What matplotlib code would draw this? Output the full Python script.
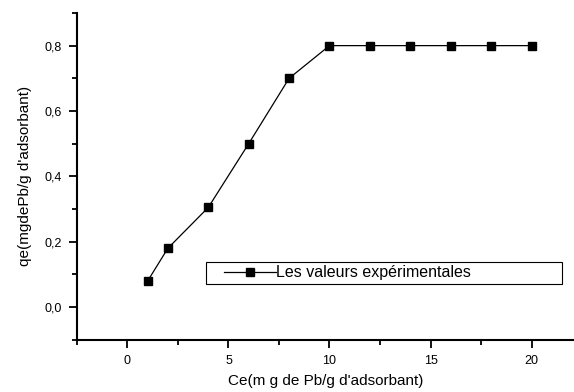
import numpy as np
import matplotlib.pyplot as plt
from matplotlib.patches import Rectangle
from matplotlib.ticker import FuncFormatter, MultipleLocator

plt.rcParams['font.family'] = ['Liberation Sans', 'DejaVu Sans']

ce = [1, 2, 4, 6, 8, 10, 12, 14, 16, 18, 20]
qe = [0.08, 0.18, 0.305, 0.50, 0.70, 0.80, 0.80, 0.80, 0.80, 0.80, 0.80]

fig = plt.figure(figsize=(5.74, 3.92), dpi=100)
ax = fig.add_axes([0.134, 0.133, 0.866, 0.834])

ax.plot(ce, qe, color='black', lw=0.9, marker='s', markersize=5.3,
        label='Les valeurs expérimentales')

ax.set_xlim(-2.5, 22.1)
ax.set_ylim(-0.1, 0.9)
ax.xaxis.set_major_locator(MultipleLocator(5))
ax.xaxis.set_minor_locator(MultipleLocator(2.5))
ax.yaxis.set_major_locator(MultipleLocator(0.2))
ax.yaxis.set_minor_locator(MultipleLocator(0.1))
ax.yaxis.set_major_formatter(FuncFormatter(lambda v, p: f'{v:.1f}'.replace('.', ',')))

for s in ['top', 'right']:
    ax.spines[s].set_visible(False)
for s in ['left', 'bottom']:
    ax.spines[s].set_linewidth(1.5)
ax.tick_params(which='major', direction='out', length=6, width=1.3, labelsize=9, pad=5)
ax.tick_params(which='minor', direction='out', length=3.5, width=1.3)

ax.set_xlabel('Ce(m g de Pb/g d\'adsorbant)', fontsize=11, labelpad=5)
ax.set_ylabel('qe(mgdePb/g d\'adsorbant)', fontsize=11, labelpad=9)

# legend box drawn separately, legend itself without frame
ax.add_patch(Rectangle((0.26, 0.171), 0.716, 0.068, transform=ax.transAxes,
                       facecolor='white', edgecolor='black', lw=0.8, zorder=5))
leg = ax.legend(loc='center left', bbox_to_anchor=(0.295, 0.205), frameon=False,
                fontsize=11.5, handlelength=3.3, handletextpad=0, borderpad=0,
                borderaxespad=0)
leg.set_zorder(6)

fig.savefig('out.png', dpi=100)
